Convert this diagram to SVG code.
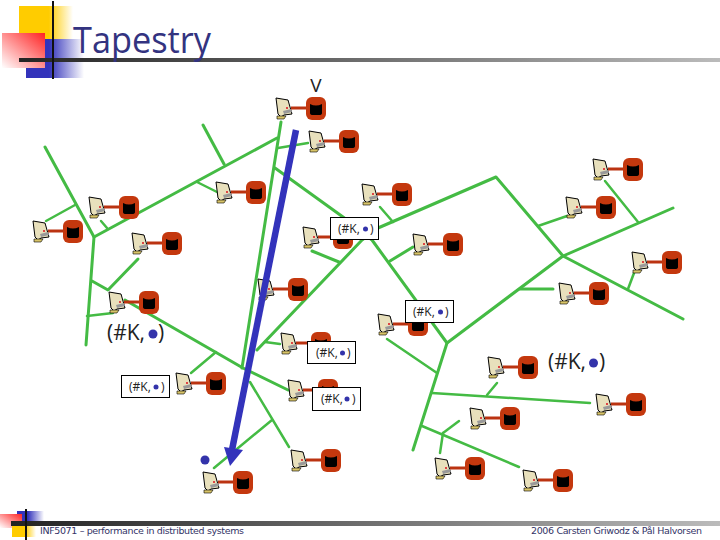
<svg xmlns="http://www.w3.org/2000/svg" width="720" height="540" viewBox="0 0 720 540">
<style>
.g{fill:none;stroke:#44bb44;stroke-width:3;stroke-linecap:round;stroke-linejoin:round}
.t{stroke-width:2.5}
.lb{fill:#fff;stroke:#000;stroke-width:1}
.s{font-family:"Open Sans","DejaVu Sans",sans-serif;font-size:12px;fill:#222}
.b{font-family:"Open Sans","DejaVu Sans",sans-serif;font-size:21px;fill:#222}
.d{fill:#3333aa}
.f{font-family:"DejaVu Sans",sans-serif;font-size:9.5px;fill:#333366}
</style>
<defs>
<linearGradient id="fy" x1="0" x2="1" y1="0" y2="0"><stop offset="0" stop-color="#ffcc00"/><stop offset=".55" stop-color="#ffcc00"/><stop offset="1" stop-color="#ffcc00" stop-opacity="0"/></linearGradient>
<linearGradient id="fb" x1="0" x2="1" y1="0" y2="0"><stop offset="0" stop-color="#3333bb"/><stop offset=".4" stop-color="#3333bb"/><stop offset="1" stop-color="#3333bb" stop-opacity="0"/></linearGradient>
<linearGradient id="fr" x1="1" x2="0" y1="0" y2="1"><stop offset="0" stop-color="#ff2222"/><stop offset="1" stop-color="#ffffff"/></linearGradient>
<linearGradient id="bar" gradientUnits="userSpaceOnUse" x1="11" x2="720" y1="0" y2="0"><stop offset="0" stop-color="#222"/><stop offset="1" stop-color="#bbb"/></linearGradient>
<g id="node">
<path d="M1 1 L13 3 L17 17 L9 18 L6 20 L3 17 Z" fill="#e8e0bc" stroke="#000" stroke-width="1"/>
<path d="M2 19 L11 19 L9 22 L2 22 Z" fill="#d8c468" stroke="#000" stroke-width=".6"/>
<path d="M8 14 L16 12 L17 15 L9 17 Z" fill="#999"/>
<rect x="11" y="10" width="2" height="2" fill="#dd4444"/>
<path d="M16 11 H33" stroke="#bb3311" stroke-width="3" fill="none"/>
<rect x="31" y="0" width="20" height="23" rx="6" fill="#c4380e"/>
<path d="M35 7 Q41 10 47 7 V16 Q47 18 44 18 H38 Q35 18 35 16 Z" fill="#000"/>
</g>
</defs>
<g id="template">
<rect x="19" y="6" width="54" height="33" fill="url(#fy)"/>
<rect x="26" y="39" width="58" height="39" fill="url(#fb)"/>
<rect x="2" y="33" width="43" height="35" fill="url(#fr)"/>
<rect x="19" y="58" width="701" height="4" fill="url(#bar)"/>
<rect x="52" y="1" width="2" height="78" fill="#111"/>
<text x="73" y="53" font-family="'Open Sans','DejaVu Sans',sans-serif" font-size="36" fill="#333380" textLength="138" lengthAdjust="spacingAndGlyphs">Tapestry</text>
<rect x="17" y="511" width="27" height="10" fill="url(#fb)"/>
<rect x="0" y="514" width="22" height="14" fill="url(#fr)"/>
<rect x="12" y="526" width="24" height="11" fill="url(#fy)"/>
<rect x="11" y="521" width="709" height="5" fill="url(#bar)"/>
<rect x="25" y="509" width="2" height="31" fill="#111"/>
<text class="f" x="40" y="534" textLength="204">INF5071 – performance in distributed systems</text>
<text class="f" x="531" y="534" textLength="171">2006 Carsten Griwodz &amp; Pål Halvorsen</text>
</g>
<g id="connectors">
<path class="g" d="M45 147 L94 237 L86 345"/>
<path class="g" d="M92 281 L108 290 L138 259"/>
<path class="g t" d="M87 316 L113 313"/>
<path class="g t" d="M46 221 L75 205"/>
<path class="g t" d="M101 221 L107 228"/>
<path class="g" d="M94 237 L277 138"/>
<path class="g t" d="M197 182 L217 192"/>
<path class="g" d="M203 125 L224 164"/>
<path class="g" d="M281 122 L242 368"/>
<path class="g t" d="M278 148 L308 143"/>
<path class="g" d="M275 168 L343 217 L372 240 L447 343 L413 450"/>
<path class="g" d="M447 343 L563 256 L673 208"/>
<path class="g" d="M520 289 L553 289"/>
<path class="g" d="M378 228 L496 177 L563 256 L683 319"/>
<path class="g t" d="M380 207 L393 222"/>
<path class="g" d="M378 228 L362 240 L257 350"/>
<path class="g t" d="M265 342 L280 344"/>
<path class="g" d="M125 300 L243 368 L288 390"/>
<path class="g t" d="M216 352 L191 373"/>
<path class="g t" d="M250 382 L289 447"/>
<path class="g t" d="M272 420 L214 468"/>
<path class="g" d="M312 251 L339 262"/>
<path class="g" d="M390 261 L413 247"/>
<path class="g t" d="M387 339 L437 373"/>
<path class="g t" d="M432 393 L590 403"/>
<path class="g t" d="M487 395 L497 383"/>
<path class="g t" d="M422 426 L519 467"/>
<path class="g t" d="M443 433 L459 421"/>
<path class="g t" d="M443 433 L440 453"/>
<path class="g t" d="M605 181 L638 222"/>
<path class="g t" d="M538 226 L567 216"/>
<path class="g t" d="M628 289 L634 273"/>
</g>
<use id="n1" href="#node" x="275" y="97"/>
<use id="n2" href="#node" x="308" y="130"/>
<use id="n3" href="#node" x="361" y="183"/>
<use id="n4" href="#node" x="215" y="181"/>
<use id="n5" href="#node" x="302" y="226"/>
<use id="n6" href="#node" x="412" y="233"/>
<use id="n7" href="#node" x="592" y="158"/>
<use id="n8" href="#node" x="565" y="196"/>
<use id="n9" href="#node" x="631" y="251"/>
<use id="n10" href="#node" x="558" y="282"/>
<use id="n11" href="#node" x="88" y="196"/>
<use id="n12" href="#node" x="32" y="220"/>
<use id="n13" href="#node" x="131" y="232"/>
<use id="n14" href="#node" x="108" y="291"/>
<use id="n15" href="#node" x="175" y="372"/>
<use id="n16" href="#node" x="257" y="278"/>
<use id="n17" href="#node" x="280" y="332"/>
<use id="n18" href="#node" x="287" y="379"/>
<use id="n19" href="#node" x="290" y="449"/>
<use id="n20" href="#node" x="202" y="471"/>
<use id="n21" href="#node" x="377" y="313"/>
<use id="n22" href="#node" x="487" y="356"/>
<use id="n23" href="#node" x="595" y="393"/>
<use id="n24" href="#node" x="469" y="407"/>
<use id="n25" href="#node" x="434" y="457"/>
<use id="n26" href="#node" x="522" y="469"/>
<g id="arrow">
<path d="M296 130 L232 450" fill="none" stroke="#3333bb" stroke-width="6.5"/>
<path d="M224 447 L243 450 L230 466 Z" fill="#3333bb"/>
</g>
<text x="316" y="92" class="b" font-size="19" style="font-size:19px" text-anchor="middle">V</text>
<circle cx="205" cy="460" r="4.5" fill="#3333aa"/>
<g id="label1"><rect class="lb" x="330.500" y="217.500" width="48" height="22"/><text class="s" x="338" y="233">(#K,</text><circle class="d" cx="365.500" cy="229" r="2.500"/><text class="s" x="370" y="233">)</text></g>
<g id="label2"><rect class="lb" x="405.500" y="300.500" width="48" height="22"/><text class="s" x="413" y="316">(#K,</text><circle class="d" cx="440.500" cy="312" r="2.500"/><text class="s" x="445" y="316">)</text></g>
<g id="label3"><rect class="lb" x="307.500" y="341.500" width="48" height="22"/><text class="s" x="316" y="357">(#K,</text><circle class="d" cx="342.500" cy="353" r="2.500"/><text class="s" x="347" y="357">)</text></g>
<g id="label4"><rect class="lb" x="121.500" y="375.500" width="48" height="22"/><text class="s" x="129" y="391">(#K,</text><circle class="d" cx="156" cy="387" r="2.500"/><text class="s" x="161" y="391">)</text></g>
<g id="label5"><rect class="lb" x="312.500" y="387.500" width="48" height="23"/><text class="s" x="321" y="403">(#K,</text><circle class="d" cx="347" cy="399" r="2.500"/><text class="s" x="352" y="403">)</text></g>
<g id="label6"><text class="b" x="107" y="340">(#K,</text><circle class="d" cx="153" cy="334" r="4.500"/><text class="b" x="158" y="340">)</text></g>
<g id="label7"><text class="b" x="548" y="369">(#K,</text><circle class="d" cx="593.500" cy="363" r="4.500"/><text class="b" x="599" y="369">)</text></g>
</svg>
